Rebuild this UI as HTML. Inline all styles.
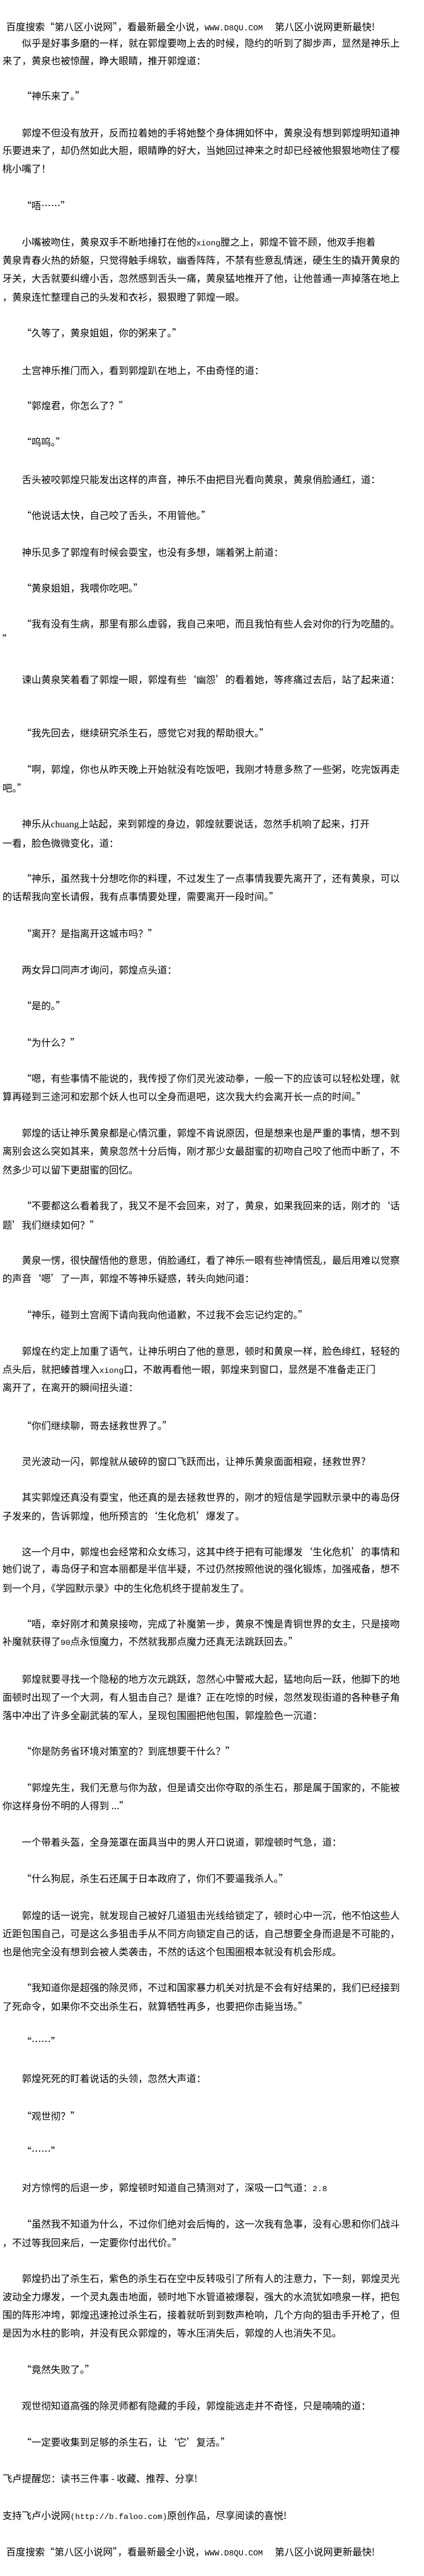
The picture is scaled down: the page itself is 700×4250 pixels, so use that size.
<!DOCTYPE html>
<html><head><meta charset="utf-8"><style>
html,body{margin:0;padding:0;background:#fff;}
body{width:700px;height:4250px;position:relative;overflow:hidden;font-family:"Noto Sans CJK SC","Liberation Sans","WenQuanYi Zen Hei",sans-serif;font-size:16px;color:#000;}
.l{position:absolute;white-space:nowrap;line-height:20px;height:20px;}
.i{left:36px}.c{left:4px}.h{left:10px}
.m{font-family:"Liberation Mono",monospace;font-size:13.33px}
.s{font-family:"Liberation Serif",serif;font-size:16px}
</style></head><body>
<div class="l h" style="top:33px">百度搜索“第八区小说网”，看最新最全小说，<span class="m">WWW.D8QU.COM&nbsp;&nbsp;</span> 第八区小说网更新最快!</div>
<div class="l i" style="top:60px">似乎是好事多磨的一样，就在郭煌要吻上去的时候，隐约的听到了脚步声，显然是神乐上</div>
<div class="l c" style="top:89px">来了，黄泉也被惊醒，睁大眼睛，推开郭煌道：</div>
<div class="l i" style="top:147px">“神乐来了。”</div>
<div class="l i" style="top:208px">郭煌不但没有放开，反而拉着她的手将她整个身体拥如怀中，黄泉没有想到郭煌明知道神</div>
<div class="l c" style="top:237px">乐要进来了，却仍然如此大胆，眼睛睁的好大，当她回过神来之时却已经被他狠狠地吻住了樱</div>
<div class="l c" style="top:267px">桃小嘴了！</div>
<div class="l i" style="top:328px">“唔……”</div>
<div class="l i" style="top:388px">小嘴被吻住，黄泉双手不断地捶打在他的<span class="m">xiong</span>膛之上，郭煌不管不顾，他双手抱着</div>
<div class="l c" style="top:418px">黄泉青春火热的娇躯，只觉得触手绵软，幽香阵阵，不禁有些意乱情迷，硬生生的撬开黄泉的</div>
<div class="l c" style="top:448px">牙关，大舌就要纠缠小舌，忽然感到舌头一痛，黄泉猛地推开了他，让他普通一声掉落在地上</div>
<div class="l c" style="top:479px">，黄泉连忙整理自己的头发和衣衫，狠狠瞪了郭煌一眼。</div>
<div class="l i" style="top:538px">“久等了，黄泉姐姐，你的粥来了。”</div>
<div class="l i" style="top:600px">土宫神乐推门而入，看到郭煌趴在地上，不由奇怪的道：</div>
<div class="l i" style="top:658px">“郭煌君，你怎么了？”</div>
<div class="l i" style="top:718px">“呜呜。”</div>
<div class="l i" style="top:780px">舌头被咬郭煌只能发出这样的声音，神乐不由把目光看向黄泉，黄泉俏脸通红，道：</div>
<div class="l i" style="top:839px">“他说话太快，自己咬了舌头，不用管他。”</div>
<div class="l i" style="top:900px">神乐见多了郭煌有时候会耍宝，也没有多想，端着粥上前道：</div>
<div class="l i" style="top:959px">“黄泉姐姐，我喂你吃吧。”</div>
<div class="l i" style="top:1018px">“我有没有生病，那里有那么虚弱，我自己来吧，而且我怕有些人会对你的行为吃醋的。</div>
<div class="l c" style="top:1043px">”</div>
<div class="l i" style="top:1110px">谏山黄泉笑着看了郭煌一眼，郭煌有些‘幽怨’的看着她，等疼痛过去后，站了起来道：</div>
<div class="l i" style="top:1198px">“我先回去，继续研究杀生石，感觉它对我的帮助很大。”</div>
<div class="l i" style="top:1258px">“啊，郭煌，你也从昨天晚上开始就没有吃饭吧，我刚才特意多熬了一些粥，吃完饭再走</div>
<div class="l c" style="top:1289px">吧。”</div>
<div class="l i" style="top:1348px">神乐从<span class="s">chuang</span>上站起，来到郭煌的身边，郭煌就要说话，忽然手机响了起来，打开</div>
<div class="l c" style="top:1380px">一看，脸色微微变化，道：</div>
<div class="l i" style="top:1438px">“神乐，虽然我十分想吃你的料理，不过发生了一点事情我要先离开了，还有黄泉，可以</div>
<div class="l c" style="top:1468px">的话帮我向室长请假，我有点事情要处理，需要离开一段时间。”</div>
<div class="l i" style="top:1529px">“离开？是指离开这城市吗？”</div>
<div class="l i" style="top:1589px">两女异口同声才询问，郭煌点头道：</div>
<div class="l i" style="top:1648px">“是的。”</div>
<div class="l i" style="top:1709px">“为什么？”</div>
<div class="l i" style="top:1768px">“嗯，有些事情不能说的，我传授了你们灵光波动拳，一般一下的应该可以轻松处理，就</div>
<div class="l c" style="top:1798px">算再碰到三途河和宏那个妖人也可以全身而退吧，这次我大约会离开长一点的时间。”</div>
<div class="l i" style="top:1858px">郭煌的话让神乐黄泉都是心情沉重，郭煌不肯说原因，但是想来也是严重的事情，想不到</div>
<div class="l c" style="top:1888px">离别会这么突如其来，黄泉忽然十分后悔，刚才那少女最甜蜜的初吻自己咬了他而中断了，不</div>
<div class="l c" style="top:1919px">然多少可以留下更甜蜜的回忆。</div>
<div class="l i" style="top:1978px">“不要都这么看着我了，我又不是不会回来，对了，黄泉，如果我回来的话，刚才的‘话</div>
<div class="l c" style="top:2010px">题’我们继续如何？”</div>
<div class="l i" style="top:2068px">黄泉一愣，很快醒悟他的意思，俏脸通红，看了神乐一眼有些神情慌乱，最后用难以觉察</div>
<div class="l c" style="top:2098px">的声音‘嗯’了一声，郭煌不等神乐疑惑，转头向她问道：</div>
<div class="l i" style="top:2158px">“神乐，碰到土宫阁下请向我向他道歉，不过我不会忘记约定的。”</div>
<div class="l i" style="top:2218px">郭煌在约定上加重了语气，让神乐明白了他的意思，顿时和黄泉一样，脸色绯红，轻轻的</div>
<div class="l c" style="top:2248px">点头后，就把螓首埋入<span class="m">xiong</span>口，不敢再看他一眼，郭煌来到窗口，显然是不准备走正门</div>
<div class="l c" style="top:2278px">离开了，在离开的瞬间扭头道：</div>
<div class="l i" style="top:2341px">“你们继续聊，哥去拯救世界了。”</div>
<div class="l i" style="top:2400px">灵光波动一闪，郭煌就从破碎的窗口飞跃而出，让神乐黄泉面面相窥，拯救世界?</div>
<div class="l i" style="top:2459px">其实郭煌还真没有耍宝，他还真的是去拯救世界的，刚才的短信是学园默示录中的毒岛伢</div>
<div class="l c" style="top:2490px">子发来的，告诉郭煌，他所预言的‘生化危机’爆发了。</div>
<div class="l i" style="top:2549px">这一个月中，郭煌也会经常和众女练习，这其中终于把有可能爆发‘生化危机’的事情和</div>
<div class="l c" style="top:2577px">她们说了，毒岛伢子和宫本丽都是半信半疑，不过仍然按照他说的强化锻炼，加强戒备，想不</div>
<div class="l c" style="top:2609px">到一个月，《学园默示录》中的生化危机终于提前发生了。</div>
<div class="l i" style="top:2668px">“唔，幸好刚才和黄泉接吻，完成了补魔第一步，黄泉不愧是青铜世界的女主，只是接吻</div>
<div class="l c" style="top:2697px">补魔就获得了<span class="m">90</span>点永恒魔力，不然就我那点魔力还真无法跳跃回去。”</div>
<div class="l i" style="top:2759px">郭煌就要寻找一个隐秘的地方次元跳跃，忽然心中警戒大起，猛地向后一跃，他脚下的地</div>
<div class="l c" style="top:2789px">面顿时出现了一个大洞，有人狙击自己？是谁？正在吃惊的时候，忽然发现街道的各种巷子角</div>
<div class="l c" style="top:2819px">落中冲出了许多全副武装的军人，呈现包围圈把他包围，郭煌脸色一沉道：</div>
<div class="l i" style="top:2878px">“你是防务省环境对策室的？到底想要干什么？”</div>
<div class="l i" style="top:2938px">“郭煌先生，我们无意与你为敌，但是请交出你夺取的杀生石，那是属于国家的，不能被</div>
<div class="l c" style="top:2968px">你这样身份不明的人得到 ...”</div>
<div class="l i" style="top:3028px">一个带着头盔，全身笼罩在面具当中的男人开口说道，郭煌顿时气急，道：</div>
<div class="l i" style="top:3088px">“什么狗屁，杀生石还属于日本政府了，你们不要逼我杀人。”</div>
<div class="l i" style="top:3149px">郭煌的话一说完，就发现自己被好几道狙击光线给锁定了，顿时心中一沉，他不怕这些人</div>
<div class="l c" style="top:3179px">近距包围自己，可是这么多狙击手从不同方向锁定自己的话，自己想要全身而退是不可能的，</div>
<div class="l c" style="top:3209px">也是他完全没有想到会被人类袭击，不然的话这个包围圈根本就没有机会形成。</div>
<div class="l i" style="top:3268px">“我知道你是超强的除灵师，不过和国家暴力机关对抗是不会有好结果的，我们已经接到</div>
<div class="l c" style="top:3299px">了死命令，如果你不交出杀生石，就算牺牲再多，也要把你击毙当场。”</div>
<div class="l i" style="top:3357px">“……”</div>
<div class="l i" style="top:3418px">郭煌死死的盯着说话的头领，忽然大声道：</div>
<div class="l i" style="top:3480px">“观世彻？”</div>
<div class="l i" style="top:3538px">“……”</div>
<div class="l i" style="top:3598px">对方惊愕的后退一步，郭煌顿时知道自己猜测对了，深吸一口气道：<span class="m">2.8</span></div>
<div class="l i" style="top:3658px">“虽然我不知道为什么，不过你们绝对会后悔的，这一次我有急事，没有心思和你们战斗</div>
<div class="l c" style="top:3689px">，不过等我回来后，一定要你付出代价。”</div>
<div class="l i" style="top:3748px">郭煌扔出了杀生石，紫色的杀生石在空中反转吸引了所有人的注意力，下一刻，郭煌灵光</div>
<div class="l c" style="top:3778px">波动全力爆发，一个灵丸轰击地面，顿时地下水管道被爆裂，强大的水流犹如喷泉一样，把包</div>
<div class="l c" style="top:3808px">围的阵形冲垮，郭煌迅速抢过杀生石，接着就听到到数声枪响，几个方向的狙击手开枪了，但</div>
<div class="l c" style="top:3838px">是因为水柱的影响，并没有民众郭煌的，等水压消失后，郭煌的人也消失不见。</div>
<div class="l i" style="top:3898px">“竟然失败了。”</div>
<div class="l i" style="top:3958px">观世彻知道高强的除灵师都有隐藏的手段，郭煌能逃走并不奇怪，只是喃喃的道：</div>
<div class="l i" style="top:4018px">“一定要收集到足够的杀生石，让‘它’复活。”</div>
<div class="l c" style="top:4078px">飞卢提醒您：读书三件事 - 收藏、推荐、分享!</div>
<div class="l c" style="top:4139px">支持飞卢小说网<span class="m">(http://b.faloo.com)</span>原创作品，尽享阅读的喜悦!</div>
<div class="l h" style="top:4199px">百度搜索“第八区小说网”，看最新最全小说，<span class="m">WWW.D8QU.COM&nbsp;&nbsp;</span> 第八区小说网更新最快!</div>
</body></html>
